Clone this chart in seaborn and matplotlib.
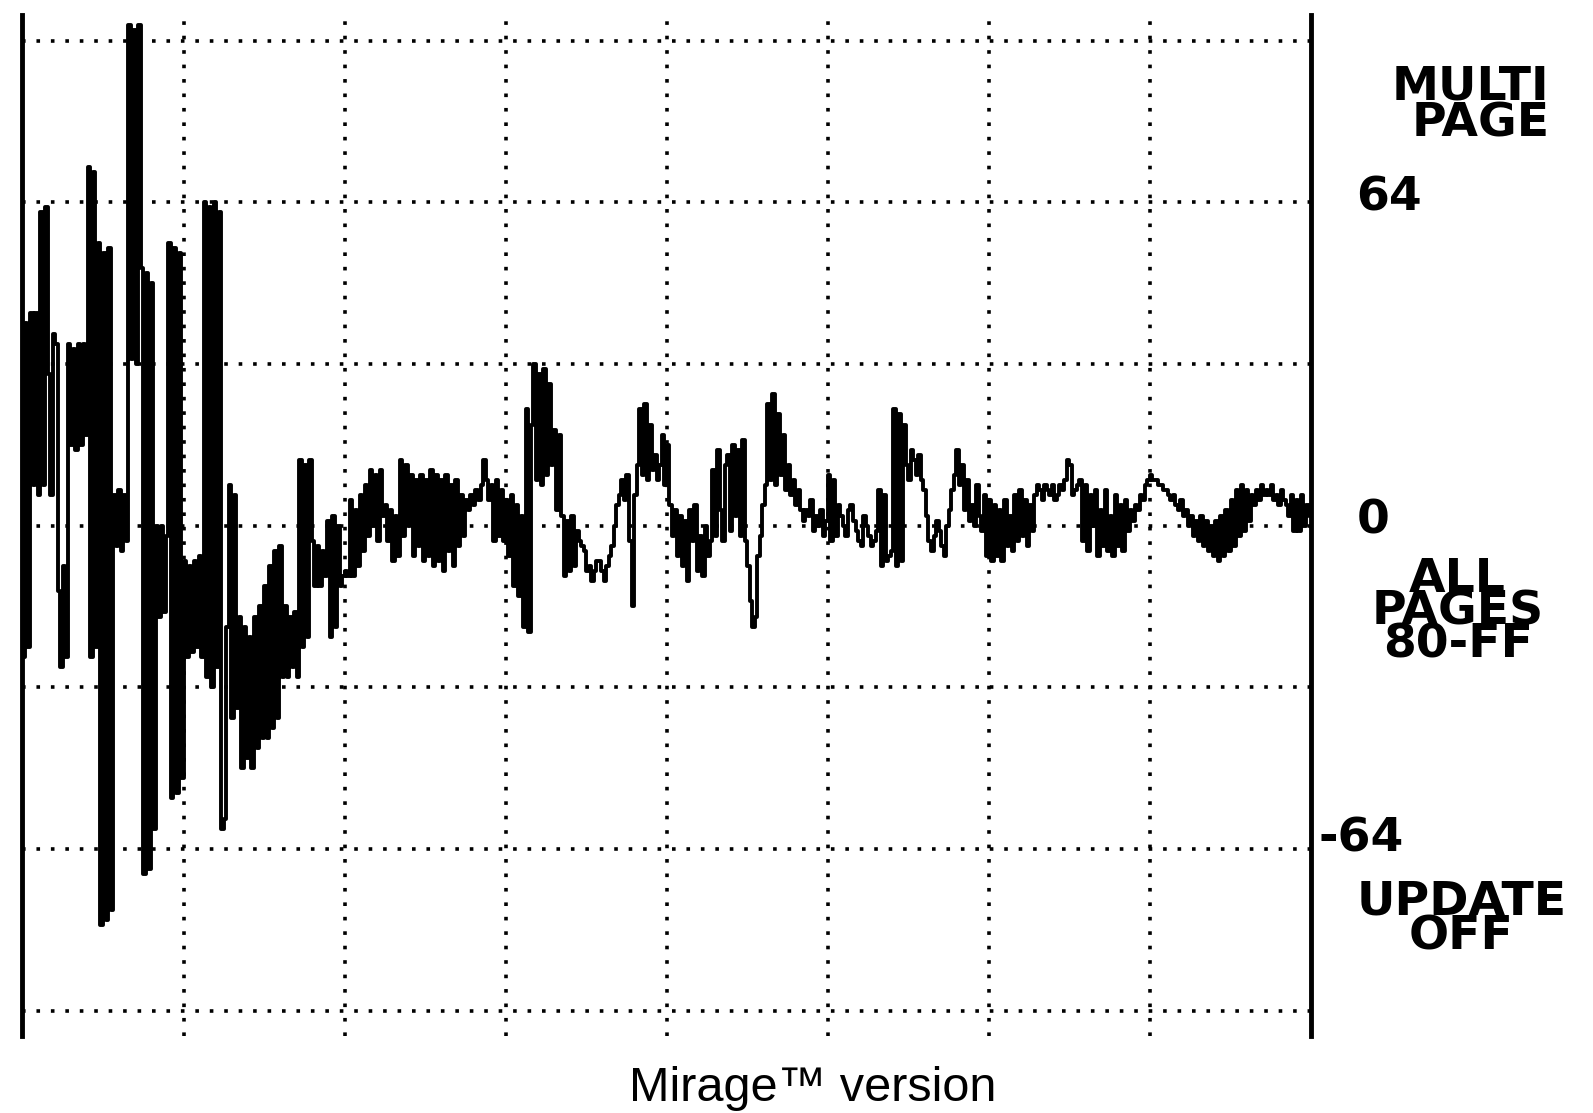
import numpy as np
import pandas as pd
import seaborn as sns
import matplotlib.pyplot as plt

# screen samples, two samples per x step (x runs 0..256)
wave_0_63 = [
    -26, 40, -24, 42, 8, 42, 6, 62, 8, 63, 30, 6, 38, 36, -13, -28,
    -8, -26, 36, 16, 35, 15, 36, 16, 36, 18, 71, -26, 70, -24, 56, -79,
    54, -78, 55, -76, 6, -4, 7, -5, 6, -3, 99, 33, 98, 32, 99, 51,
    -69, 50, -68, 48, -60, 0, -18, 0, -17, -2, 56, -54, 55, -53, 54, -50,
    -7, -26, -8, -25, -7, -24, -6, -26, 64, -30, 63, -32, 64, -28, 62, -60,
    -58, -20, 8, -38, 6, -36, -18, -48, -20, -46, -22, -48, -18, -44, -16, -42,
    -12, -42, -8, -40, -5, -38, -4, -30, -16, -30, -18, -28, -17, -30, 13, -24,
    12, -22, 13, -3, -12, -4, -12, -5, -10, 1, -22, 2, -20, 0, -12, -10,
]
wave_64_127 = [
    -9, -10, 5, -10, 3, -8, 6, -5, 8, -2, 11, 0, 10, -3, 11, 2,
    4, -3, 3, -7, 2, -6, 13, -2, 12, 0, 10, -6, 9, -4, 10, -7,
    9, -6, 11, -8, 10, -7, 9, -9, 10, -5, 8, -8, 9, -4, 6, -2,
    5, 3, 6, 4, 7, 5, 8, 13, 9, 5, 8, -3, 9, -2, 7, -3,
    5, -6, 6, -12, 4, -14, 2, -20, 23, -21, 20, 32, 9, 30, 8, 31,
    10, 28, 12, 19, 3, 18, 2, -10, 1, -9, 2, -8, -1, -3, -4, -5,
    -9, -8, -11, -9, -7, -7, -9, -11, -8, -6, -4, 0, 4, 6, 9, 5,
    10, -3, -16, 6, 12, 23, 10, 24, 9, 20, 11, 14, 9, 12, 18, 8,
]
wave_128_191 = [
    16, 4, -2, 3, -6, 2, -8, 1, -11, 3, -3, 4, -9, -2, -10, 0,
    -6, -3, 11, -2, 15, 3, -3, 12, 14, -1, 16, 2, 15, -2, 17, -3,
    -8, -15, -20, -18, -6, -2, 4, 8, 24, 9, 26, 8, 22, 10, 18, 7,
    12, 6, 9, 4, 7, 3, 1, 3, 2, 5, -1, 2, 0, 3, -2, 1,
    10, -3, 9, -2, 4, 2, 0, -2, 3, 4, 1, -1, -3, -4, 2, 0,
    -2, -4, -3, -1, 7, -8, 6, -7, -6, -5, 23, -8, 22, -7, 20, 12,
    9, 15, 13, 10, 14, 9, 7, 2, -3, -5, -2, 1, -1, -4, -6, 0,
    3, 7, 10, 15, 8, 12, 3, 9, 1, 4, 0, 8, 2, -1, 6, -6,
]
wave_192_255 = [
    5, -7, 4, -6, 3, -7, 5, -4, 2, -5, 6, -3, 7, -2, 5, -4,
    4, -1, 6, 8, 7, 5, 8, 7, 6, 8, 5, 6, 8, 7, 9, 13,
    12, 6, 7, 8, 9, -3, 8, -5, 6, 0, 7, -6, 3, -4, 7, -5,
    2, -6, 6, -4, 4, -5, 5, -1, 3, 1, 4, 3, 6, 5, 8, 9,
    10, 9, 9, 8, 8, 7, 7, 6, 5, 6, 4, 3, 5, 2, 3, 0,
    2, -2, 1, -3, 2, -4, 1, -5, 0, -6, 1, -7, 2, -6, 3, -5,
    5, -4, 7, -2, 8, -1, 7, 1, 6, 4, 7, 5, 8, 6, 7, 6,
    8, 5, 6, 4, 7, 5, 4, 2, 6, -1, 5, -1, 6, 0, 4, 2,
]

grid_x = [32, 64, 96, 128, 160, 192, 224]
grid_y = [-96, -64, -32, 0, 32, 64, 96]

levels = wave_0_63 + wave_64_127 + wave_128_191 + wave_192_255
df = pd.DataFrame({'t': np.arange(len(levels)) / 2, 'level': levels})

sns.set_theme(style='white')
plt.rcParams['font.family'] = ['DejaVu Sans']

fig = plt.figure(figsize=(15.93, 11.13), dpi=100)
ax = fig.add_axes([0.0141, 0.0692, 0.8089, 0.9171])

sns.lineplot(data=df, x='t', y='level', ax=ax, color='black', linewidth=2.8,
             drawstyle='steps-post', estimator=None, errorbar=None)

ax.set_xlim(0, 256)
ax.set_ylim(-101, 101)
ax.set_xticks(grid_x)
ax.set_yticks(grid_y)
ax.tick_params(length=0, labelbottom=False, labelleft=False)
ax.set_xlabel('')
ax.set_ylabel('')
ax.set_axisbelow(True)
ax.grid(True, color='black', linestyle=(0, (1, 3)), linewidth=2.6)

for side in ['top', 'bottom']:
    ax.spines[side].set_visible(False)
for side in ['left', 'right']:
    ax.spines[side].set_color('black')
    ax.spines[side].set_linewidth(3.5)

# screen labels on the right
lbl = dict(fontsize=34, fontweight='bold', color='black', va='center')
fig.text(0.9726, 0.9051, 'MULTI\nPAGE', ha='right', multialignment='right',
         linespacing=0.78, **lbl)
fig.text(0.8514, 0.8220, '64', ha='left', **lbl)
fig.text(0.8514, 0.5320, '0', ha='left', **lbl)
fig.text(0.8610, 0.4500, 'ALL\nPAGES\n80-FF', ha='left', multialignment='center',
         linespacing=0.64, **lbl)
fig.text(0.8278, 0.2460, '-64', ha='left', **lbl)
fig.text(0.8514, 0.1740, 'UPDATE\nOFF', ha='left', multialignment='center',
         linespacing=0.70, **lbl)

fig.text(0.5102, 0.0219, 'Mirage\u2122 version', ha='center', va='center',
         fontsize=35, family=['Liberation Sans', 'DejaVu Sans'], color='black')

fig.savefig('out.png', dpi=100, facecolor='white')
